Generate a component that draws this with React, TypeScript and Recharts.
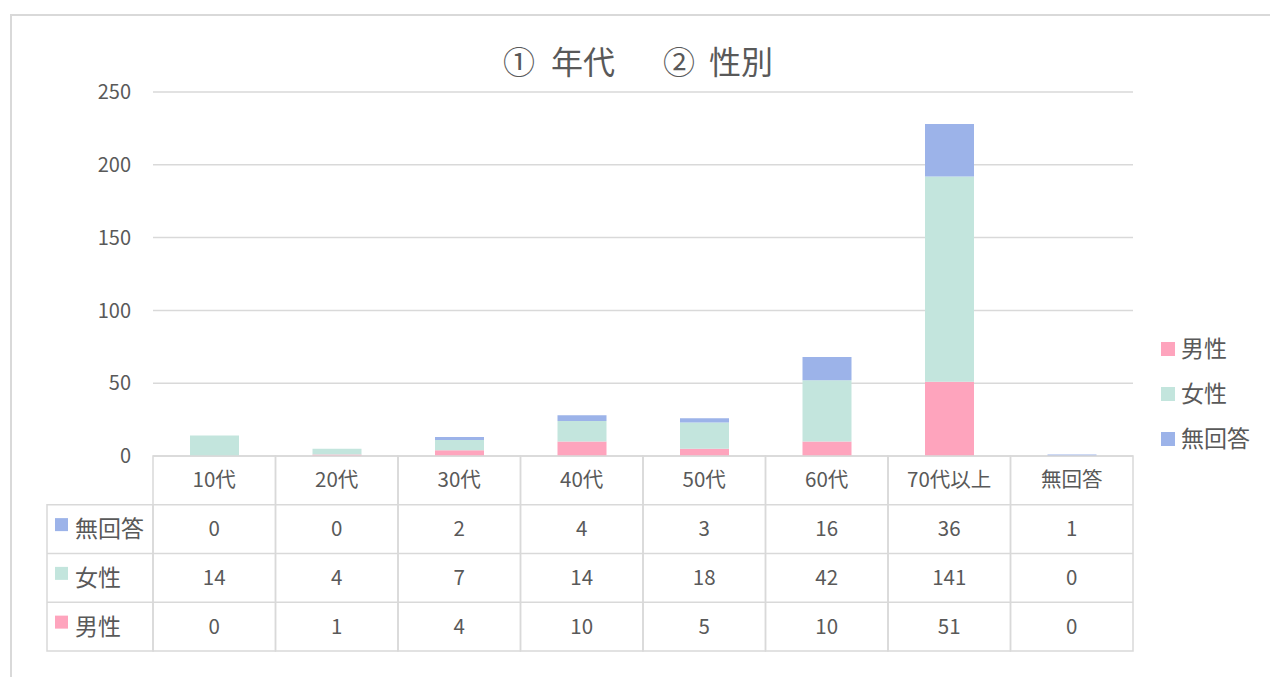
import React from "react";
import { BarChart, Bar, XAxis, YAxis, CartesianGrid } from "recharts";

const categories = ["10代", "20代", "30代", "40代", "50代", "60代", "70代以上", "無回答"];
const male = [0, 1, 4, 10, 5, 10, 51, 0];
const female = [14, 4, 7, 14, 18, 42, 141, 0];
const noAnswer = [0, 0, 2, 4, 3, 16, 36, 1];
const yTicks = [0, 50, 100, 150, 200, 250];

const series = [
  { key: "male", name: "男性", values: male, color: "#FEA4BD" },
  { key: "female", name: "女性", values: female, color: "#C3E5DD" },
  { key: "noAnswer", name: "無回答", values: noAnswer, color: "#9CB3E9" },
];
// data table lists the series top-down in reverse stack order
const tableRows = [series[2], series[1], series[0]];

const data = categories.map((cat, i) => ({
  cat,
  male: male[i],
  female: female[i],
  noAnswer: noAnswer[i],
}));

const PLOT_L = 153;
const PLOT_R = 1133;
const PLOT_B = 456;
const ROW_H = 48.75;
const LINE = "#d9d9d9";
const TEXT = "#595959";
const FONT = "'Noto Sans CJK JP', 'Noto Sans', sans-serif";

function TableTick(props: any) {
  const { x, payload, index } = props;
  const colW = (PLOT_R - PLOT_L) / categories.length;
  const left = x - colW / 2;
  return (
    <g>
      <rect x={left} y={PLOT_B} width={colW} height={ROW_H * 4} fill="none" stroke={LINE} strokeWidth={1.5} />
      {[1, 2, 3].map((r) => (
        <line key={r} x1={left} x2={left + colW} y1={PLOT_B + ROW_H * r} y2={PLOT_B + ROW_H * r} stroke={LINE} strokeWidth={1.5} />
      ))}
      <text x={x} y={PLOT_B + ROW_H / 2 - 2} textAnchor="middle" dominantBaseline="central" fill={TEXT} fontSize={20.5}>
        {payload.value}
      </text>
      {tableRows.map((s, r) => (
        <text key={s.key} x={x} y={PLOT_B + ROW_H * (r + 1.5) - 2} textAnchor="middle" dominantBaseline="central" fill={TEXT} fontSize={20.5}>
          {s.values[index]}
        </text>
      ))}
    </g>
  );
}

export default function App() {
  return (
    <div style={{ position: "absolute", left: 0, top: 0, width: 1270, height: 677, overflow: "hidden", background: "#fff", fontFamily: FONT }}>
      {/* chart frame */}
      <div style={{ position: "absolute", left: 10, top: 14, width: 1300, height: 700, border: `2px solid ${LINE}` }} />

      <div style={{ position: "absolute", left: 0, top: 37, width: 1276, textAlign: "center", fontSize: 32, color: TEXT, whiteSpace: "pre" }}>
        <span style={{ marginRight: 16 }}>①</span>
        <span style={{ marginRight: 48 }}>年代</span>
        <span style={{ marginRight: 14 }}>②</span>
        <span>性別</span>
      </div>

      <div style={{ position: "absolute", left: 0, top: 0 }}>
        <BarChart width={1270} height={677} data={data} margin={{ top: 92, right: 137, bottom: 21, left: 93 }}>
          <CartesianGrid vertical={false} stroke={LINE} strokeWidth={1.5} />
          <YAxis
            width={60}
            domain={[0, 250]}
            ticks={yTicks}
            axisLine={false}
            tickLine={false}
            tickSize={0}
            tickMargin={22}
            tick={{ fill: TEXT, fontSize: 20 }}
          />
          <XAxis dataKey="cat" height={200} axisLine={false} tickLine={false} interval={0} tick={<TableTick />} />
          {series.map((s) => (
            <Bar key={s.key} dataKey={s.key} name={s.name} stackId="a" fill={s.color} barSize={49} isAnimationActive={false} />
          ))}
        </BarChart>
      </div>

      {/* left column of the data table: legend keys */}
      <svg style={{ position: "absolute", left: 0, top: 0 }} width={1270} height={677}>
        <rect x={47} y={PLOT_B + ROW_H} width={PLOT_L - 47} height={ROW_H * 3} fill="none" stroke={LINE} strokeWidth={1.5} />
        {[2, 3].map((r) => (
          <line key={r} x1={47} x2={PLOT_L} y1={PLOT_B + ROW_H * r} y2={PLOT_B + ROW_H * r} stroke={LINE} strokeWidth={1.5} />
        ))}
        {tableRows.map((s, r) => (
          <g key={s.key}>
            <rect x={55} y={PLOT_B + ROW_H * (r + 1.5) - 11} width={13} height={13} fill={s.color} />
            <text x={75} y={PLOT_B + ROW_H * (r + 1.5) - 2} dominantBaseline="central" fill={TEXT} fontSize={23} fontFamily={FONT}>
              {s.name}
            </text>
          </g>
        ))}
        {/* legend */}
        {series.map((s, i) => (
          <g key={s.key}>
            <rect x={1161} y={342 + i * 45} width={14} height={14} fill={s.color} />
            <text x={1181} y={347 + i * 45} dominantBaseline="central" fill={TEXT} fontSize={23} fontFamily={FONT}>
              {s.name}
            </text>
          </g>
        ))}
      </svg>
    </div>
  );
}
